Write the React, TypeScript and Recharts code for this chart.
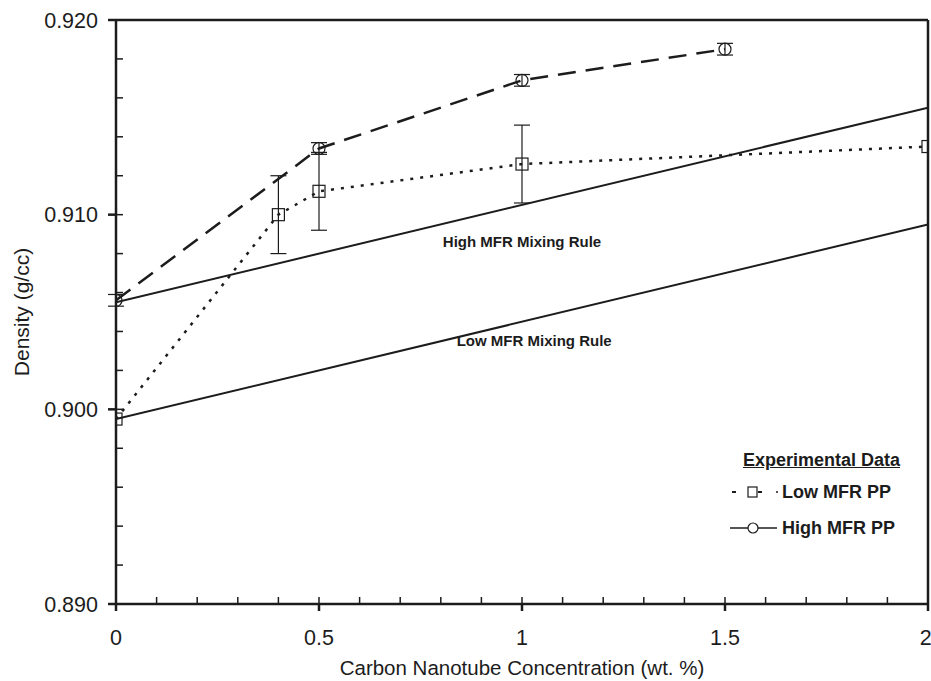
import React from 'react';
import {
  ComposedChart,
  Line,
  XAxis,
  YAxis,
  ErrorBar,
  Legend,
  ReferenceDot,
} from 'recharts';

// CNT loading (wt. %) for each measured sample
const lowMfrX = [0, 0.4, 0.5, 1, 2];
const lowMfrDensity = [0.8995, 0.91, 0.9112, 0.9126, 0.9135];
const lowMfrErr = [0, 0.002, 0.002, 0.002, 0];

const highMfrX = [0, 0.5, 1, 1.5];
const highMfrDensity = [0.9056, 0.9134, 0.9169, 0.9185];
const highMfrErr = [0.0003, 0.0003, 0.0003, 0.0003];

// mixing rule lines (endpoints)
const mixX = [0, 2];
const highMixDensity = [0.9055, 0.9155];
const lowMixDensity = [0.8995, 0.9095];

const legendOrder = ['Low MFR PP', 'High MFR PP'];

const xTicks = [0, 0.5, 1, 1.5, 2];
const xMinorTicks = [
  0, 0.1, 0.2, 0.3, 0.4, 0.5, 0.6, 0.7, 0.8, 0.9, 1, 1.1, 1.2, 1.3, 1.4, 1.5, 1.6, 1.7, 1.8, 1.9, 2,
];
const yTicks = [0.89, 0.9, 0.91, 0.92];
const yMinorTicks = [
  0.89, 0.892, 0.894, 0.896, 0.898, 0.9, 0.902, 0.904, 0.906, 0.908, 0.91, 0.912, 0.914, 0.916,
  0.918, 0.92,
];

const INK = '#1c1c1c';
const FONT = '"Liberation Sans", Arial, Helvetica, sans-serif';

const lowData = lowMfrX.map((x, i) => ({ x, y: lowMfrDensity[i], err: lowMfrErr[i] }));
const highData = highMfrX.map((x, i) => ({ x, y: highMfrDensity[i], err: highMfrErr[i] }));
const highMix = mixX.map((x, i) => ({ x, y: highMixDensity[i] }));
const lowMix = mixX.map((x, i) => ({ x, y: lowMixDensity[i] }));

const SquareDot = (props: any) => {
  const { cx, cy, index } = props;
  return (
    <rect key={`sq-${index}`} x={cx - 6} y={cy - 6} width={12} height={12} fill="none" stroke={INK} strokeWidth={1.2} />
  );
};

const CircleDot = (props: any) => {
  const { cx, cy, index } = props;
  return <circle key={`ci-${index}`} cx={cx} cy={cy} r={6} fill="none" stroke={INK} strokeWidth={1.2} />;
};

const LegendBox = (props: any) => {
  const payload = (props.payload || [])
    .filter((p: any) => legendOrder.includes(p.value))
    .sort((a: any, b: any) => legendOrder.indexOf(a.value) - legendOrder.indexOf(b.value));
  return (
    <div style={{ fontFamily: FONT, fontWeight: 700, fontSize: 18, color: INK }}>
      <div style={{ textAlign: 'right', textDecoration: 'underline', marginBottom: 3 }}>Experimental Data</div>
      {payload.map((p: any) => {
        const isLow = p.value === 'Low MFR PP';
        return (
          <div key={p.value} style={{ display: 'flex', alignItems: 'center', height: 36 }}>
            <svg width={52} height={20} style={{ marginRight: 2 }}>
              {isLow ? (
                <>
                  <line x1={4} y1={10} x2={8} y2={10} stroke={INK} strokeWidth={2} />
                  <rect x={20} y={5} width={9} height={10} fill="none" stroke={INK} strokeWidth={1.2} />
                  <line x1={30} y1={10} x2={34} y2={10} stroke={INK} strokeWidth={2} />
                  <line x1={48} y1={10} x2={50} y2={10} stroke={INK} strokeWidth={1.5} />
                </>
              ) : (
                <>
                  <line x1={2} y1={10} x2={49} y2={10} stroke={INK} strokeWidth={1.5} />
                  <circle cx={25} cy={10} r={5} fill="#fff" stroke={INK} strokeWidth={1.2} />
                </>
              )}
            </svg>
            <span>{p.value}</span>
          </div>
        );
      })}
    </div>
  );
};

export default function App() {
  const tickStyle = { fontFamily: FONT, fontSize: 21.5, fill: INK };
  return (
    <div style={{ position: 'fixed', top: 0, left: 0, width: 931, height: 681, background: '#fff' }}>
      <ComposedChart width={931} height={681} margin={{ top: 20, right: 3, left: 0, bottom: 0 }}>
        <XAxis
          dataKey="x"
          type="number"
          domain={[0, 2]}
          ticks={xTicks}
          allowDataOverflow
          height={77}
          tickSize={7}
          tickMargin={19}
          tick={tickStyle}
          stroke={INK}
          strokeWidth={2.5}
          label={{
            value: 'Carbon Nanotube Concentration (wt. %)',
            position: 'insideBottom',
            offset: 6,
            style: { fontFamily: FONT, fontSize: 20.5, fill: INK },
          }}
        />
        <XAxis
          xAxisId="minor"
          dataKey="x"
          type="number"
          domain={[0, 2]}
          ticks={xMinorTicks}
          allowDataOverflow
          mirror
          height={1}
          axisLine={false}
          tickSize={7}
          tickFormatter={() => ''}
          stroke={INK}
          strokeWidth={1.5}
        />
        <XAxis
          xAxisId="top"
          dataKey="x"
          type="number"
          domain={[0, 2]}
          allowDataOverflow
          orientation="top"
          mirror
          height={1}
          tick={false}
          tickLine={false}
          stroke={INK}
          strokeWidth={2.5}
        />
        <YAxis
          type="number"
          domain={[0.89, 0.92]}
          ticks={yTicks}
          allowDataOverflow
          width={116}
          tickSize={8}
          tickMargin={10}
          tick={tickStyle}
          tickFormatter={(v: number) => v.toFixed(3)}
          stroke={INK}
          strokeWidth={2.5}
          label={{
            value: 'Density (g/cc)',
            angle: -90,
            position: 'insideLeft',
            offset: 22,
            style: { fontFamily: FONT, fontSize: 21, fill: INK, textAnchor: 'middle' },
          }}
        />
        <YAxis
          yAxisId="minor"
          type="number"
          domain={[0.89, 0.92]}
          ticks={yMinorTicks}
          allowDataOverflow
          mirror
          width={1}
          axisLine={false}
          tickSize={7}
          tickFormatter={() => ''}
          stroke={INK}
          strokeWidth={1.5}
        />
        <YAxis
          yAxisId="right"
          type="number"
          domain={[0.89, 0.92]}
          allowDataOverflow
          orientation="right"
          mirror
          width={1}
          tick={false}
          tickLine={false}
          stroke={INK}
          strokeWidth={2.5}
        />

        {/* mixing rules drawn on the twin axes so those axes get rendered */}
        <Line
          data={highMix}
          dataKey="y"
          name="High MFR Mixing Rule"
          xAxisId="minor"
          yAxisId="minor"
          legendType="none"
          stroke={INK}
          strokeWidth={2}
          dot={false}
          isAnimationActive={false}
        />
        <Line
          data={lowMix}
          dataKey="y"
          name="Low MFR Mixing Rule"
          xAxisId="top"
          yAxisId="right"
          legendType="none"
          stroke={INK}
          strokeWidth={2}
          dot={false}
          isAnimationActive={false}
        />

        <Line
          data={lowData}
          dataKey="y"
          name="Low MFR PP"
          type="linear"
          stroke={INK}
          strokeWidth={2.5}
          strokeDasharray="3 7"
          dot={SquareDot}
          activeDot={false}
          isAnimationActive={false}
        >
          <ErrorBar dataKey="err" direction="y" width={8} stroke={INK} strokeWidth={1.2} isAnimationActive={false} />
        </Line>
        <Line
          data={highData}
          dataKey="y"
          name="High MFR PP"
          type="linear"
          stroke={INK}
          strokeWidth={2.5}
          strokeDasharray="18 10"
          dot={CircleDot}
          activeDot={false}
          isAnimationActive={false}
        >
          <ErrorBar dataKey="err" direction="y" width={8} stroke={INK} strokeWidth={1.2} isAnimationActive={false} />
        </Line>

        <ReferenceDot x={1.0} y={0.9086} r={0} fill="none" stroke="none"
          label={{ value: 'High MFR Mixing Rule', position: 'center', style: { fontFamily: FONT, fontSize: 15, fontWeight: 700, fill: INK } }} />
        <ReferenceDot x={1.03} y={0.90354} r={0} fill="none" stroke="none"
          label={{ value: 'Low MFR Mixing Rule', position: 'center', style: { fontFamily: FONT, fontSize: 15, fontWeight: 700, fill: INK } }} />

        <Legend
          layout="vertical"
          align="center"
          verticalAlign="middle"
          content={LegendBox}
          wrapperStyle={{ left: 728, top: 450, width: 172, height: 112 }}
        />
      </ComposedChart>
    </div>
  );
}
